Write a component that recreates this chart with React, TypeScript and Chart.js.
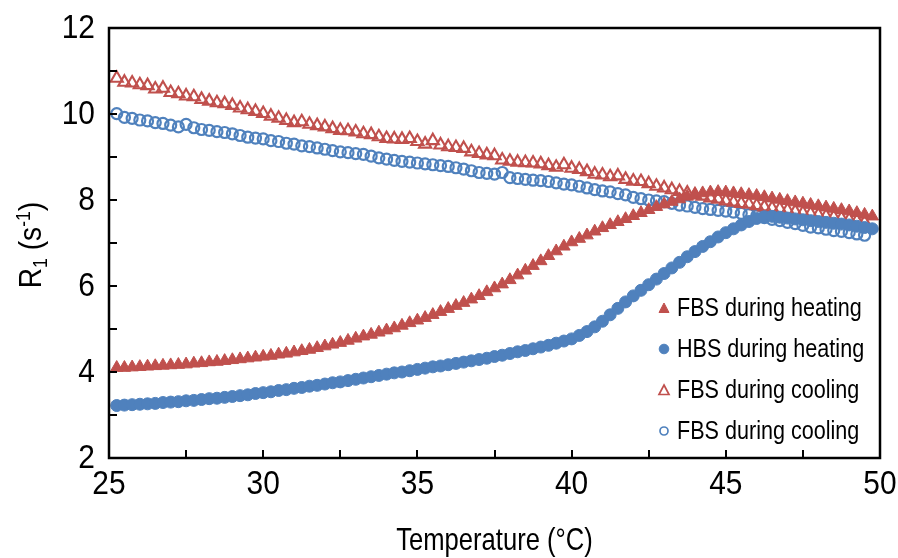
import React, { useEffect, useRef } from "react";
import { Chart, registerables } from "chart.js";

Chart.register(...registerables);

const TEMPS = [
  25.25, 25.5, 25.75, 26, 26.25, 26.5, 26.75, 27, 27.25, 27.5, 27.75, 28, 28.25, 28.5, 28.75, 29, 29.25, 29.5, 29.75, 30,
  30.25, 30.5, 30.75, 31, 31.25, 31.5, 31.75, 32, 32.25, 32.5, 32.75, 33, 33.25, 33.5, 33.75, 34, 34.25, 34.5, 34.75, 35,
  35.25, 35.5, 35.75, 36, 36.25, 36.5, 36.75, 37, 37.25, 37.5, 37.75, 38, 38.25, 38.5, 38.75, 39, 39.25, 39.5, 39.75, 40,
  40.25, 40.5, 40.75, 41, 41.25, 41.5, 41.75, 42, 42.25, 42.5, 42.75, 43, 43.25, 43.5, 43.75, 44, 44.25, 44.5, 44.75, 45,
  45.25, 45.5, 45.75, 46, 46.25, 46.5, 46.75, 47, 47.25, 47.5, 47.75, 48, 48.25, 48.5, 48.75, 49, 49.25, 49.5, 49.75,
];

const FBS_HEATING = [
  4.10, 4.10, 4.11, 4.12, 4.13, 4.14, 4.15, 4.16, 4.17, 4.18, 4.20, 4.21, 4.23, 4.24, 4.26, 4.28, 4.30, 4.32, 4.34, 4.36,
  4.38, 4.41, 4.43, 4.46, 4.49, 4.52, 4.56, 4.60, 4.64, 4.68, 4.73, 4.78, 4.83, 4.87, 4.92, 4.97, 5.02, 5.08, 5.14, 5.20,
  5.26, 5.33, 5.40, 5.47, 5.54, 5.61, 5.69, 5.77, 5.86, 5.95, 6.04, 6.14, 6.25, 6.36, 6.47, 6.58, 6.70, 6.81, 6.92, 7.02,
  7.10, 7.18, 7.27, 7.35, 7.42, 7.49, 7.56, 7.63, 7.70, 7.77, 7.84, 7.90, 7.96, 8.02, 8.08, 8.13, 8.16, 8.18, 8.19, 8.18,
  8.16, 8.14, 8.12, 8.10, 8.07, 8.04, 8.01, 7.98, 7.95, 7.92, 7.89, 7.86, 7.83, 7.80, 7.77, 7.74, 7.70, 7.66, 7.62,
];

const HBS_HEATING = [
  3.22, 3.23, 3.24, 3.25, 3.26, 3.27, 3.29, 3.30, 3.31, 3.33, 3.34, 3.36, 3.38, 3.39, 3.41, 3.43, 3.45, 3.47, 3.50, 3.52,
  3.54, 3.57, 3.59, 3.62, 3.64, 3.67, 3.69, 3.72, 3.75, 3.77, 3.80, 3.83, 3.86, 3.89, 3.92, 3.95, 3.98, 4.00, 4.03, 4.06,
  4.09, 4.12, 4.14, 4.17, 4.20, 4.23, 4.26, 4.29, 4.32, 4.36, 4.39, 4.43, 4.47, 4.50, 4.54, 4.58, 4.62, 4.67, 4.72, 4.77,
  4.85, 4.94, 5.05, 5.18, 5.33, 5.48, 5.63, 5.77, 5.90, 6.03, 6.16, 6.29, 6.42, 6.55, 6.68, 6.80, 6.92, 7.03, 7.14, 7.24,
  7.33, 7.42, 7.50, 7.57, 7.61, 7.62, 7.60, 7.58, 7.56, 7.54, 7.52, 7.50, 7.48, 7.46, 7.44, 7.42, 7.39, 7.36, 7.33,
];

const FBS_COOLING_TRI = [
  10.83, 10.74, 10.72, 10.68, 10.66, 10.58, 10.60, 10.50, 10.47, 10.42, 10.40, 10.34, 10.30, 10.26, 10.24, 10.20, 10.14, 10.10, 10.06, 10.01,
  9.95, 9.90, 9.85, 9.80, 9.82, 9.76, 9.73, 9.70, 9.66, 9.62, 9.61, 9.58, 9.54, 9.52, 9.47, 9.43, 9.42, 9.41, 9.43, 9.36,
  9.30, 9.38, 9.28, 9.24, 9.22, 9.20, 9.12, 9.08, 9.05, 9.03, 8.93, 8.90, 8.88, 8.87, 8.86, 8.84, 8.80, 8.76, 8.82, 8.74,
  8.71, 8.66, 8.60, 8.58, 8.54, 8.56, 8.48, 8.44, 8.43, 8.38, 8.32, 8.28, 8.24, 8.20, 8.16, 8.12, 8.09, 8.05, 8.02, 7.98,
  7.95, 7.92, 7.90, 7.87, 7.84, 7.81, 7.79, 7.76, 7.73, 7.70, 7.68, 7.65, 7.62, 7.60, 7.57, 7.54, 7.51, 7.48,
];

const FBS_COOLING_CIRC = [
  10.01, 9.92, 9.90, 9.86, 9.84, 9.80, 9.78, 9.74, 9.70, 9.76, 9.68, 9.64, 9.62, 9.59, 9.57, 9.54, 9.50, 9.46, 9.44, 9.42,
  9.38, 9.36, 9.32, 9.30, 9.26, 9.24, 9.21, 9.18, 9.15, 9.12, 9.10, 9.08, 9.06, 9.02, 8.98, 8.95, 8.92, 8.90, 8.88, 8.86,
  8.84, 8.82, 8.80, 8.78, 8.75, 8.72, 8.68, 8.64, 8.62, 8.60, 8.64, 8.52, 8.50, 8.48, 8.46, 8.45, 8.43, 8.40, 8.37, 8.35,
  8.32, 8.28, 8.24, 8.21, 8.19, 8.15, 8.12, 8.06, 8.03, 8.00, 7.98, 7.96, 7.92, 7.88, 7.86, 7.83, 7.80, 7.78, 7.76, 7.74,
  7.72, 7.69, 7.66, 7.63, 7.59, 7.55, 7.52, 7.48, 7.45, 7.41, 7.37, 7.35, 7.32, 7.29, 7.27, 7.24, 7.21, 7.18,
];

const SERIES_LABELS = [
  "FBS during heating",
  "HBS during heating",
  "FBS during cooling",
  "FBS during cooling",
];

const X_TICKS = [25, 30, 35, 40, 45, 50];
const Y_TICKS = [2, 4, 6, 8, 10, 12];
const X_TITLE = "Temperature (°C)";

const RED = "#C0504D";
const BLUE = "#4F81BD";
const FONT = "'Liberation Sans', Arial, sans-serif";

const toPoints = (vals: number[]) => vals.map((v, i) => ({ x: TEMPS[i], y: v }));

function narrowText(
  ctx: CanvasRenderingContext2D,
  text: string,
  x: number,
  y: number,
  size: number,
  sx: number,
  align: CanvasTextAlign
) {
  ctx.save();
  ctx.translate(x, y);
  ctx.scale(sx, 1);
  ctx.font = `${size}px ${FONT}`;
  ctx.textAlign = align;
  ctx.textBaseline = "middle";
  ctx.fillStyle = "#000";
  ctx.fillText(text, 0, 0);
  ctx.restore();
}

const framePlugin = {
  id: "frameTicks",
  afterDraw(chart: any) {
    const { ctx, chartArea } = chart;
    const { left, right, top, bottom } = chartArea;
    const xs = chart.scales.x;
    const ys = chart.scales.y;
    ctx.save();
    ctx.strokeStyle = "#000";
    ctx.lineWidth = 2.5;
    ctx.strokeRect(left, top, right - left, bottom - top);
    ctx.lineWidth = 2;
    const tl = 8;
    for (let v = 27.5; v < 50; v += 2.5) {
      const px = Math.round(xs.getPixelForValue(v));
      ctx.beginPath();
      ctx.moveTo(px, bottom);
      ctx.lineTo(px, bottom - tl);
      ctx.stroke();
    }
    for (let v = 3; v < 12; v += 1) {
      const py = Math.round(ys.getPixelForValue(v));
      ctx.beginPath();
      ctx.moveTo(left, py);
      ctx.lineTo(left + tl, py);
      ctx.stroke();
    }
    ctx.restore();

    X_TICKS.forEach((v) => {
      narrowText(ctx, String(v), xs.getPixelForValue(v), bottom + 27, 34, 0.88, "center");
    });
    Y_TICKS.forEach((v) => {
      narrowText(ctx, String(v), left - 14, ys.getPixelForValue(v) + 1, 34, 0.88, "right");
    });
    narrowText(ctx, X_TITLE, (left + right) / 2, 541, 32, 0.8, "center");
  },
};

const yTitlePlugin = {
  id: "yTitle",
  afterDraw(chart: any) {
    const { ctx } = chart;
    const parts = [
      { t: "R", s: 32, dy: 0 },
      { t: "1", s: 20, dy: 6 },
      { t: " (s", s: 32, dy: 0 },
      { t: "-1", s: 20, dy: -11 },
      { t: ")", s: 32, dy: 0 },
    ];
    const sx = 0.88;
    ctx.save();
    let total = 0;
    for (const p of parts) {
      ctx.font = `${p.s}px ${FONT}`;
      total += ctx.measureText(p.t).width;
    }
    ctx.translate(30, 245);
    ctx.rotate(-Math.PI / 2);
    ctx.scale(sx, 1);
    ctx.fillStyle = "#000";
    ctx.textBaseline = "alphabetic";
    let x = -total / 2;
    for (const p of parts) {
      ctx.font = `${p.s}px ${FONT}`;
      ctx.fillText(p.t, x, 11 + p.dy);
      x += ctx.measureText(p.t).width;
    }
    ctx.restore();
  },
};

const legendPlugin = {
  id: "insideLegend",
  afterDraw(chart: any) {
    const { ctx } = chart;
    const rows = [308, 349, 390, 431];
    const mx = 664;
    const tx = 677;
    ctx.save();
    chart.data.datasets.forEach((ds: any, i: number) => {
      const y = rows[i];
      ctx.fillStyle = ds.pointBackgroundColor;
      ctx.strokeStyle = ds.pointBorderColor;
      ctx.lineWidth = i >= 2 ? 1.7 : 1;
      ctx.beginPath();
      if (ds.pointStyle === "triangle") {
        const w = 10;
        const h = 9;
        ctx.moveTo(mx, y - h / 2 - 0.5);
        ctx.lineTo(mx + w / 2, y + h / 2);
        ctx.lineTo(mx - w / 2, y + h / 2);
        ctx.closePath();
      } else {
        ctx.arc(mx, y, i >= 2 ? 4 : 4.8, 0, Math.PI * 2);
      }
      ctx.fill();
      ctx.stroke();
      narrowText(ctx, SERIES_LABELS[i], tx, y + 1, 26, 0.83, "left");
    });
    ctx.restore();
  },
};

export default function App() {
  const ref = useRef<HTMLCanvasElement | null>(null);

  useEffect(() => {
    document.body.style.margin = "0";
    const canvas = ref.current;
    if (!canvas) return;
    const chart = new Chart(canvas, {
      type: "scatter",
      data: {
        datasets: [
          {
            label: SERIES_LABELS[0],
            data: toPoints(FBS_HEATING),
            pointStyle: "triangle",
            pointRadius: 7.2,
            pointBackgroundColor: RED,
            pointBorderColor: RED,
            pointBorderWidth: 1,
            showLine: false,
          },
          {
            label: SERIES_LABELS[1],
            data: toPoints(HBS_HEATING),
            pointStyle: "circle",
            pointRadius: 6,
            pointBackgroundColor: BLUE,
            pointBorderColor: BLUE,
            pointBorderWidth: 1,
            showLine: false,
          },
          {
            label: SERIES_LABELS[2],
            data: toPoints(FBS_COOLING_TRI),
            pointStyle: "triangle",
            pointRadius: 7,
            pointBackgroundColor: "rgba(255,255,255,0)",
            pointBorderColor: RED,
            pointBorderWidth: 2.1,
            showLine: false,
          },
          {
            label: SERIES_LABELS[3],
            data: toPoints(FBS_COOLING_CIRC),
            pointStyle: "circle",
            pointRadius: 5.5,
            pointBackgroundColor: "rgba(255,255,255,0)",
            pointBorderColor: BLUE,
            pointBorderWidth: 2.2,
            showLine: false,
          },
        ],
      },
      options: {
        responsive: false,
        animation: false,
        devicePixelRatio: 1,
        layout: { padding: { top: 28, right: 18, left: 0, bottom: 0 } },
        plugins: {
          legend: { display: false },
          tooltip: { enabled: false },
        },
        scales: {
          x: {
            type: "linear",
            min: 25,
            max: 50,
            afterFit: (s: any) => {
              s.height = 100;
            },
            ticks: { display: false },
            grid: { display: false, drawTicks: false },
            border: { display: false },
          },
          y: {
            type: "linear",
            min: 2,
            max: 12,
            afterFit: (s: any) => {
              s.width = 109;
            },
            ticks: { display: false },
            grid: { display: false, drawTicks: false },
            border: { display: false },
          },
        },
      },
      plugins: [framePlugin, yTitlePlugin, legendPlugin],
    } as any);
    return () => chart.destroy();
  }, []);

  return (
    <div style={{ width: 898, height: 558 }}>
      <canvas ref={ref} width={898} height={558} style={{ display: "block" }} />
    </div>
  );
}
